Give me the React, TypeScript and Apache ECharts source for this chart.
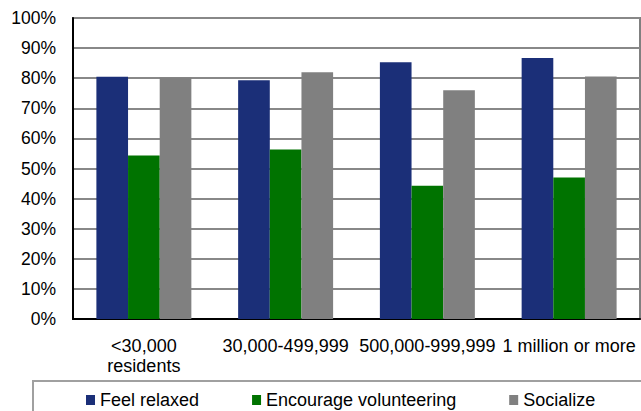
import React, { useEffect, useRef } from "react";
import * as echarts from "echarts";

const categories = ["<30,000\nresidents", "30,000-499,999", "500,000-999,999", "1 million or more"];
const feelRelaxed = [80.5, 79.3, 85.3, 86.7];
const encourageVolunteering = [54.3, 56.3, 44.3, 47];
const socialize = [80.2, 82, 76, 80.6];
const seriesNames = ["Feel relaxed", "Encourage volunteering", "Socialize"];
const colors = ["#1b2f78", "#007300", "#808080"];

const FONT = "'Liberation Sans', Arial, sans-serif";

export default function App() {
  const ref = useRef<HTMLDivElement>(null);
  useEffect(() => {
    if (!ref.current) return;
    const chart = echarts.init(ref.current, null, { renderer: "svg" });
    const data = [feelRelaxed, encourageVolunteering, socialize];
    chart.setOption({
      animation: false,
      backgroundColor: "#ffffff",
      textStyle: { fontFamily: FONT },
      grid: {
        left: 73,
        right: 1,
        top: 18,
        bottom: 92,
        show: true,
        borderColor: "#808080",
        borderWidth: 2,
        backgroundColor: "transparent",
      },
      legend: {
        left: 86,
        top: 391,
        padding: 0,
        itemWidth: 9,
        itemHeight: 10,
        itemGap: 53,
        icon: "rect",
        data: seriesNames,
        textStyle: { fontFamily: FONT, fontSize: 18, lineHeight: 18, color: "#000" },
      },
      graphic: [
        {
          type: "rect",
          shape: { x: 33, y: 381, width: 700, height: 60 },
          style: { fill: "none", stroke: "#a0a0a0", lineWidth: 2 },
          silent: true,
          z: -1,
        },
      ],
      xAxis: {
        type: "category",
        data: categories,
        axisLine: { show: true, lineStyle: { color: "#000", width: 2 } },
        axisTick: { show: false },
        axisLabel: {
          interval: 0,
          margin: 17,
          fontFamily: FONT,
          fontSize: 18,
          lineHeight: 20,
          color: "#000",
        },
      },
      yAxis: {
        type: "value",
        min: 0,
        max: 100,
        interval: 10,
        axisLine: { show: true, lineStyle: { color: "#000", width: 2 } },
        axisTick: { show: false },
        splitLine: { show: true, lineStyle: { color: "#888888", width: 2 } },
        axisLabel: {
          margin: 17,
          fontFamily: FONT,
          fontSize: 17.5,
          color: "#000",
          formatter: "{value}%",
        },
      },
      series: seriesNames.map((name, i) => ({
        name,
        type: "bar",
        data: data[i],
        barGap: "0%",
        barCategoryGap: "33%",
        itemStyle: { color: colors[i] },
      })),
    });
    return () => chart.dispose();
  }, []);
  return (
    <div
      ref={ref}
      style={{ position: "fixed", left: 0, top: 0, width: 641, height: 411 }}
    />
  );
}
